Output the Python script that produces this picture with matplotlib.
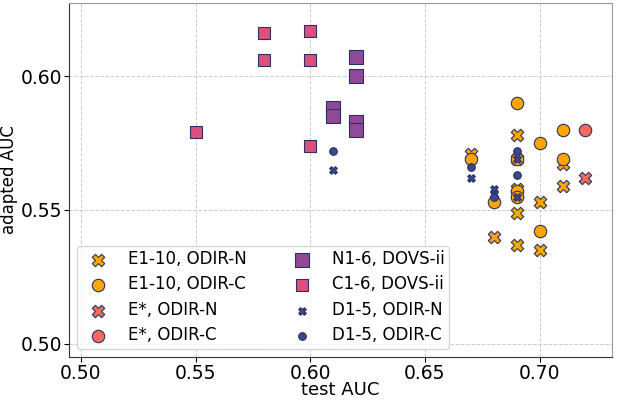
import matplotlib
matplotlib.use("Agg")
import matplotlib.pyplot as plt

plt.rcParams["font.size"] = 13.5

# ── data ───────────────────────────────────────────────────────────────────
e110_n_x = [0.67, 0.68, 0.69, 0.69, 0.69, 0.69, 0.69, 0.69, 0.70, 0.70, 0.71, 0.71]
e110_n_y = [0.571, 0.540, 0.578, 0.569, 0.558, 0.556, 0.549, 0.537, 0.553, 0.535, 0.567, 0.559]
e110_c_x = [0.67, 0.68, 0.69, 0.69, 0.69, 0.69, 0.70, 0.70, 0.71, 0.71]
e110_c_y = [0.569, 0.553, 0.590, 0.569, 0.557, 0.555, 0.575, 0.542, 0.580, 0.569]
estar_n_x = [0.72]
estar_n_y = [0.562]
estar_c_x = [0.72]
estar_c_y = [0.580]
n16_x = [0.61, 0.61, 0.62, 0.62, 0.62, 0.62]
n16_y = [0.588, 0.585, 0.607, 0.600, 0.583, 0.580]
c16_x = [0.55, 0.58, 0.58, 0.60, 0.60, 0.60]
c16_y = [0.579, 0.616, 0.606, 0.617, 0.606, 0.574]
d15_n_x = [0.61, 0.67, 0.68, 0.68, 0.69, 0.69]
d15_n_y = [0.565, 0.562, 0.558, 0.556, 0.569, 0.555]
d15_c_x = [0.61, 0.67, 0.68, 0.69, 0.69]
d15_c_y = [0.572, 0.566, 0.555, 0.572, 0.563]

edge = "#2b3160"
series = [
    (e110_n_x, e110_n_y, "X", 80, "#ffa500", "E1-10, ODIR-N"),
    (e110_c_x, e110_c_y, "o", 80, "#ffa500", "E1-10, ODIR-C"),
    (estar_n_x, estar_n_y, "X", 80, "#fa6a5a", "E*, ODIR-N"),
    (estar_c_x, estar_c_y, "o", 80, "#fa6a5a", "E*, ODIR-C"),
    (n16_x, n16_y, "s", 110, "#8e4a96", "N1-6, DOVS-ii"),
    (c16_x, c16_y, "s", 75, "#de4f7c", "C1-6, DOVS-ii"),
    (d15_n_x, d15_n_y, "X", 30, "#3a4a85", "D1-5, ODIR-N"),
    (d15_c_x, d15_c_y, "o", 30, "#3a4a85", "D1-5, ODIR-C"),
]

fig = plt.figure(figsize=(6.25, 4.01), dpi=100)
ax = fig.add_axes([0.110, 0.110, 0.869, 0.8825])

for xs, ys, m, s, c, lab in series:
    ax.scatter(xs, ys, marker=m, s=s, color=c, edgecolors=edge,
               linewidths=0.8, label=lab, zorder=3)

ax.set_xlim(0.4947, 0.7315)
ax.set_ylim(0.4951, 0.6273)
ax.set_xticks([0.50, 0.55, 0.60, 0.65, 0.70])
ax.set_yticks([0.50, 0.55, 0.60])
ax.tick_params(pad=1.5)
ax.grid(True, linestyle="--", color="#cccccc", linewidth=0.7)
ax.set_axisbelow(True)
ax.set_xlabel("test AUC", fontsize=13, labelpad=-1)
ax.set_ylabel("adapted AUC", fontsize=12, labelpad=2)
for sp in ax.spines.values():
    sp.set_color("#333333")
ax.spines["top"].set_color("#999999")
ax.spines["right"].set_color("#999999")

ax.legend(loc="lower left", ncol=2, fontsize=12, borderpad=0.25,
          labelspacing=0.45, columnspacing=2.3)

plt.savefig("out.png", dpi=100)
